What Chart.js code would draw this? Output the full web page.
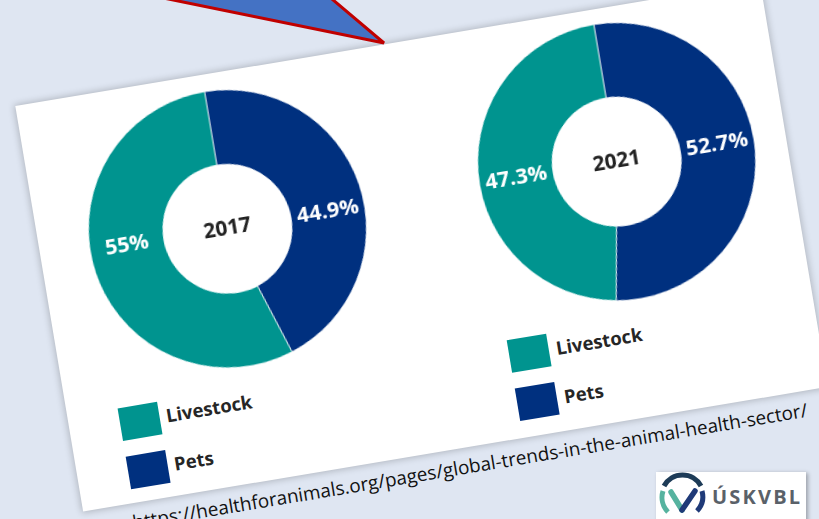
<!DOCTYPE html>
<html>
<head>
<meta charset="utf-8">
<script src="https://cdn.jsdelivr.net/npm/chart.js@4.4.0/dist/chart.umd.min.js"></script>
<style>
html,body{margin:0;padding:0;width:819px;height:519px;overflow:hidden;background:#DFE6F2;font-family:'Open Sans',sans-serif;}
#card{position:absolute;left:43.8px;top:40.9px;width:755px;height:410.6px;background:#fff;transform:rotate(-9.5deg);box-shadow:0 0 7px 1px rgba(0,0,0,0.22);}
.chart{position:absolute;}
.sw{position:absolute;width:40px;height:33px;}
.lt{position:absolute;font-weight:700;font-size:18.5px;color:#262626;line-height:33px;white-space:nowrap;}
#url{position:absolute;white-space:nowrap;color:#111;font-family:'Open Sans',sans-serif;line-height:1;}
#tri{position:absolute;left:0;top:0;z-index:5;}
#logo{position:absolute;left:656px;top:472px;width:150px;height:60px;background:#fff;box-shadow:2px 1px 4px rgba(0,0,0,0.3);}
#logo .txt{position:absolute;left:56px;top:11px;font-weight:700;font-size:20px;letter-spacing:2.2px;color:#5a6169;line-height:28px;}
</style>
</head>
<body>
<div id="card"></div>
<svg id="tri" width="819" height="519"><polygon points="-72,-50 384,43 274,-50" fill="#4472C4" stroke="#C00000" stroke-width="3" stroke-linejoin="miter"/></svg>
<div id="logo">
  <svg width="56" height="50" style="position:absolute;left:0;top:0">
    <path d="M8,14 A21,21 0 0 1 45,14" fill="none" stroke="#1d3b57" stroke-width="5"/>
    <path d="M7,19 A21,21 0 0 0 12,40" fill="none" stroke="#56b39f" stroke-width="5"/>
    <path d="M46,19 A21,21 0 0 1 41,39" fill="none" stroke="#1f3a78" stroke-width="5"/>
    <path d="M15,20 L26,38" fill="none" stroke="#56b39f" stroke-width="5.5" stroke-linecap="round"/>
    <path d="M26,38 L39,19" fill="none" stroke="#1f3a78" stroke-width="5.5" stroke-linecap="round"/>
  </svg>
  <div class="txt">ÚSKVBL</div>
</div>
<script>
// ---- data ----
const years = ['2017', '2021'];
const categories = ['Livestock', 'Pets'];
const livestockShare = [55, 47.3];
const petsShare = [44.9, 52.7];
const sourceText = 'https://healthforanimals.org/pages/global-trends-in-the-animal-health-sector/';

// ---- styles / layout ----
const TEAL = '#00948F', NAVY = '#00307F';
const catColors = [TEAL, NAVY];
const centers = [[188.6, 156.2], [584.4, 153.6]];
const CANVAS = 300;

const card = document.getElementById('card');

const sliceLabels = {
  id: 'sliceLabels',
  afterDatasetsDraw(chart, args, opts) {
    const ctx = chart.ctx;
    const meta = chart.getDatasetMeta(0);
    const ds = chart.data.datasets[0];
    let cx = 0, cy = 0;
    ctx.save();
    ctx.textAlign = 'center';
    ctx.textBaseline = 'middle';
    meta.data.forEach((arc, i) => {
      const p = arc.getProps(['x','y','startAngle','endAngle','innerRadius','outerRadius'], true);
      cx = p.x; cy = p.y;
      const mid = (p.startAngle + p.endAngle) / 2;
      const side = Math.cos(mid) >= 0 ? 1 : -1;
      const r = (p.innerRadius + p.outerRadius) / 2;
      ctx.font = '700 21.5px "Open Sans"';
      ctx.fillStyle = '#ffffff';
      ctx.fillText(ds.data[i] + '%', cx + side * r, cy);
    });
    ctx.font = '700 21px "Open Sans"';
    ctx.fillStyle = '#222222';
    ctx.fillText(opts.title, cx, cy);
    ctx.restore();
  }
};

years.forEach((yr, i) => {
  const [cx, cy] = centers[i];
  const cv = document.createElement('canvas');
  cv.className = 'chart';
  cv.width = CANVAS; cv.height = CANVAS;
  cv.style.left = (cx - CANVAS / 2) + 'px';
  cv.style.top = (cy - CANVAS / 2) + 'px';
  cv.style.width = CANVAS + 'px'; cv.style.height = CANVAS + 'px';
  card.appendChild(cv);
  new Chart(cv, {
    type: 'doughnut',
    data: {
      labels: [categories[1], categories[0]],
      datasets: [{
        data: [petsShare[i], livestockShare[i]],
        backgroundColor: [NAVY, TEAL],
        borderColor: 'rgba(255,255,255,0.75)',
        borderWidth: 1
      }]
    },
    options: {
      responsive: false,
      animation: false,
      devicePixelRatio: 1,
      radius: 139,
      cutout: 69.5,
      layout: { padding: 0 },
      plugins: {
        legend: { display: false },
        tooltip: { enabled: false },
        sliceLabels: { title: yr }
      }
    },
    plugins: [sliceLabels]
  });
  // legend
  categories.forEach((cat, k) => {
    const sw = document.createElement('div');
    sw.className = 'sw';
    sw.style.background = catColors[k];
    sw.style.left = (cx - 138) + 'px';
    sw.style.top = (cy + 175 + k * 49 - 16.5) + 'px';
    card.appendChild(sw);
    const t = document.createElement('div');
    t.className = 'lt';
    t.textContent = cat;
    t.style.left = (cx - 91) + 'px';
    t.style.top = (cy + 175 + k * 49 - 18) + 'px';
    card.appendChild(t);
  });
});

// source url text
const m = document.createElement('canvas').getContext('2d');
m.font = '100px "Open Sans"';
const w100 = m.measureText(sourceText).width;
const fs = 100 * 684 / w100;
const u = document.createElement('div');
u.id = 'url';
u.textContent = sourceText;
u.style.fontSize = fs + 'px';
u.style.left = '47px';
u.style.top = (438 - 0.888 * fs) + 'px';
card.appendChild(u);
</script>
</body>
</html>
